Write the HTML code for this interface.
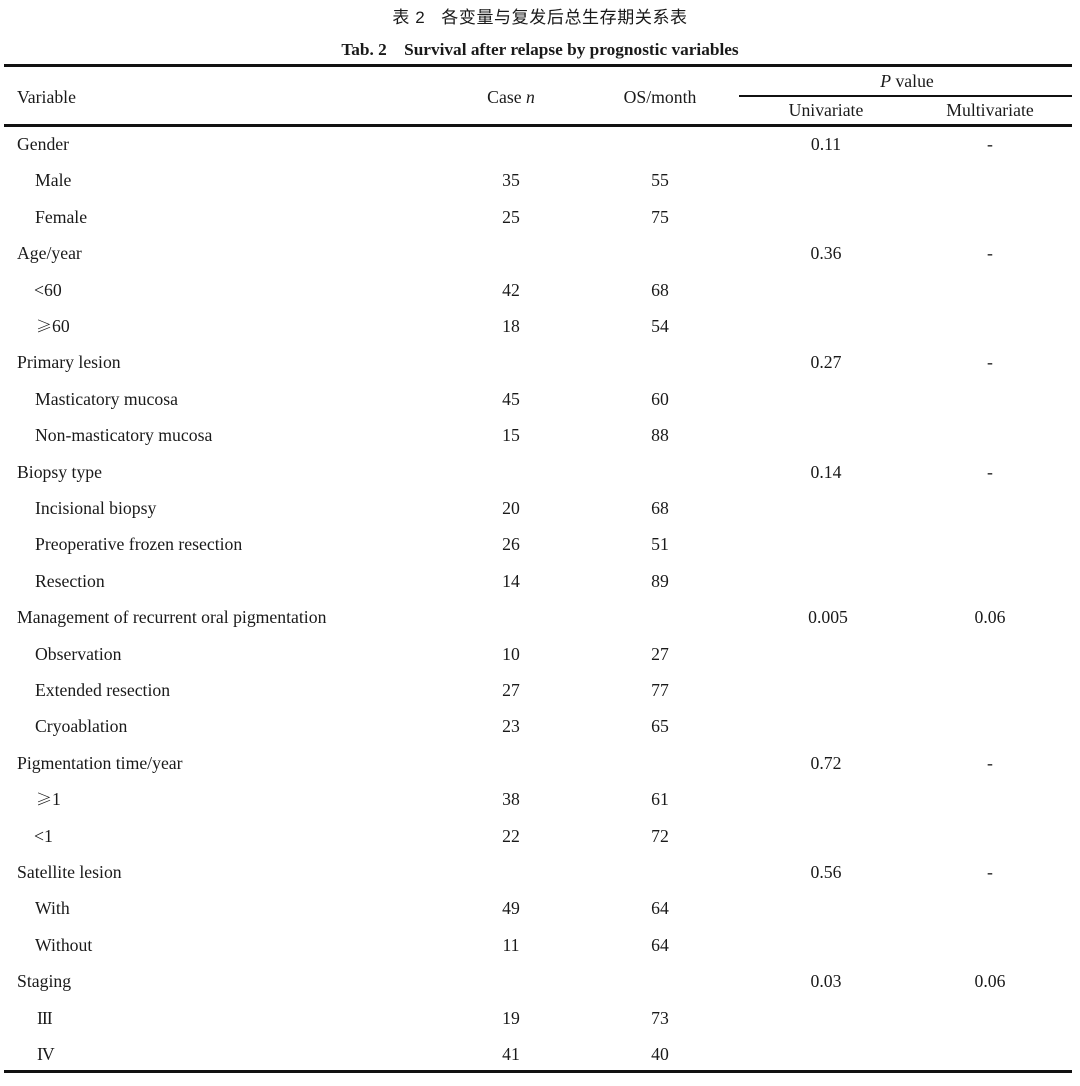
<!DOCTYPE html>
<html>
<head>
<meta charset="utf-8">
<style>
html,body{margin:0;padding:0;background:#fff;}
body{width:1080px;height:1086px;position:relative;overflow:hidden;color:#1a1a1a;
font-family:"Liberation Serif","Noto Serif CJK SC",serif;font-size:17.7px;}
.t{position:absolute;white-space:nowrap;line-height:36px;height:36px;}
.c{transform:translateX(-50%);}
.ln{position:absolute;background:#111;}
.cn{position:absolute;left:0;width:1080px;text-align:center;font-family:"Liberation Sans","Noto Sans CJK SC",sans-serif;font-size:17px;top:6px;line-height:24px;letter-spacing:0.6px;}
.en{position:absolute;left:0;width:1080px;text-align:center;font-weight:bold;font-size:17.3px;top:38px;line-height:24px;}
.ge{font-family:"Noto Serif CJK SC","Noto Sans CJK SC",serif;font-size:16px;}
</style>
</head>
<body>
<div class="cn">表 2&nbsp;&nbsp;&nbsp;各变量与复发后总生存期关系表</div>
<div class="en">Tab. 2&nbsp;&nbsp;&nbsp;&nbsp;Survival after relapse by prognostic variables</div>

<div class="ln" style="left:4px;top:64px;width:1068px;height:3px;"></div>
<div class="ln" style="left:739px;top:95px;width:333px;height:1.5px;"></div>
<div class="ln" style="left:4px;top:124px;width:1068px;height:2.5px;"></div>
<div class="ln" style="left:4px;top:1070px;width:1068px;height:3px;"></div>

<div class="t" style="left:17px;top:79px;">Variable</div>
<div class="t c" style="left:511px;top:79px;">Case <i>n</i></div>
<div class="t c" style="left:660px;top:79px;">OS/month</div>
<div class="t c" style="left:907px;top:63px;"><i>P</i> value</div>
<div class="t c" style="left:826px;top:92px;">Univariate</div>
<div class="t c" style="left:990px;top:92px;">Multivariate</div>

<div class="t" style="left:17px;top:126px;">Gender</div>
<div class="t c" style="left:826px;top:126px;">0.11</div>
<div class="t c" style="left:990px;top:126px;">-</div>

<div class="t" style="left:35px;top:162.4px;">Male</div>
<div class="t c" style="left:511px;top:162.4px;">35</div>
<div class="t c" style="left:660px;top:162.4px;">55</div>

<div class="t" style="left:35px;top:198.8px;">Female</div>
<div class="t c" style="left:511px;top:198.8px;">25</div>
<div class="t c" style="left:660px;top:198.8px;">75</div>

<div class="t" style="left:17px;top:235.2px;">Age/year</div>
<div class="t c" style="left:826px;top:235.2px;">0.36</div>
<div class="t c" style="left:990px;top:235.2px;">-</div>

<div class="t" style="left:34px;top:271.6px;">&lt;60</div>
<div class="t c" style="left:511px;top:271.6px;">42</div>
<div class="t c" style="left:660px;top:271.6px;">68</div>

<div class="t" style="left:36px;top:308px;"><span class="ge">≥</span>60</div>
<div class="t c" style="left:511px;top:308px;">18</div>
<div class="t c" style="left:660px;top:308px;">54</div>

<div class="t" style="left:17px;top:344.4px;">Primary lesion</div>
<div class="t c" style="left:826px;top:344.4px;">0.27</div>
<div class="t c" style="left:990px;top:344.4px;">-</div>

<div class="t" style="left:35px;top:380.8px;">Masticatory mucosa</div>
<div class="t c" style="left:511px;top:380.8px;">45</div>
<div class="t c" style="left:660px;top:380.8px;">60</div>

<div class="t" style="left:35px;top:417.2px;">Non-masticatory mucosa</div>
<div class="t c" style="left:511px;top:417.2px;">15</div>
<div class="t c" style="left:660px;top:417.2px;">88</div>

<div class="t" style="left:17px;top:453.6px;">Biopsy type</div>
<div class="t c" style="left:826px;top:453.6px;">0.14</div>
<div class="t c" style="left:990px;top:453.6px;">-</div>

<div class="t" style="left:35px;top:490px;">Incisional biopsy</div>
<div class="t c" style="left:511px;top:490px;">20</div>
<div class="t c" style="left:660px;top:490px;">68</div>

<div class="t" style="left:35px;top:526.4px;">Preoperative frozen resection</div>
<div class="t c" style="left:511px;top:526.4px;">26</div>
<div class="t c" style="left:660px;top:526.4px;">51</div>

<div class="t" style="left:35px;top:562.8px;">Resection</div>
<div class="t c" style="left:511px;top:562.8px;">14</div>
<div class="t c" style="left:660px;top:562.8px;">89</div>

<div class="t" style="left:17px;top:599.2px;">Management of recurrent oral pigmentation</div>
<div class="t c" style="left:828px;top:599.2px;">0.005</div>
<div class="t c" style="left:990px;top:599.2px;">0.06</div>

<div class="t" style="left:35px;top:635.6px;">Observation</div>
<div class="t c" style="left:511px;top:635.6px;">10</div>
<div class="t c" style="left:660px;top:635.6px;">27</div>

<div class="t" style="left:35px;top:672px;">Extended resection</div>
<div class="t c" style="left:511px;top:672px;">27</div>
<div class="t c" style="left:660px;top:672px;">77</div>

<div class="t" style="left:35px;top:708.4px;">Cryoablation</div>
<div class="t c" style="left:511px;top:708.4px;">23</div>
<div class="t c" style="left:660px;top:708.4px;">65</div>

<div class="t" style="left:17px;top:744.8px;">Pigmentation time/year</div>
<div class="t c" style="left:826px;top:744.8px;">0.72</div>
<div class="t c" style="left:990px;top:744.8px;">-</div>

<div class="t" style="left:36px;top:781.2px;"><span class="ge">≥</span>1</div>
<div class="t c" style="left:511px;top:781.2px;">38</div>
<div class="t c" style="left:660px;top:781.2px;">61</div>

<div class="t" style="left:34px;top:817.6px;">&lt;1</div>
<div class="t c" style="left:511px;top:817.6px;">22</div>
<div class="t c" style="left:660px;top:817.6px;">72</div>

<div class="t" style="left:17px;top:854px;">Satellite lesion</div>
<div class="t c" style="left:826px;top:854px;">0.56</div>
<div class="t c" style="left:990px;top:854px;">-</div>

<div class="t" style="left:35px;top:890.4px;">With</div>
<div class="t c" style="left:511px;top:890.4px;">49</div>
<div class="t c" style="left:660px;top:890.4px;">64</div>

<div class="t" style="left:35px;top:926.8px;">Without</div>
<div class="t c" style="left:511px;top:926.8px;">11</div>
<div class="t c" style="left:660px;top:926.8px;">64</div>

<div class="t" style="left:17px;top:963.2px;">Staging</div>
<div class="t c" style="left:826px;top:963.2px;">0.03</div>
<div class="t c" style="left:990px;top:963.2px;">0.06</div>

<div class="t" style="left:37px;top:999.6px;letter-spacing:-1px;">III</div>
<div class="t c" style="left:511px;top:999.6px;">19</div>
<div class="t c" style="left:660px;top:999.6px;">73</div>

<div class="t" style="left:37px;top:1036px;letter-spacing:-1px;">IV</div>
<div class="t c" style="left:511px;top:1036px;">41</div>
<div class="t c" style="left:660px;top:1036px;">40</div>
</body>
</html>
